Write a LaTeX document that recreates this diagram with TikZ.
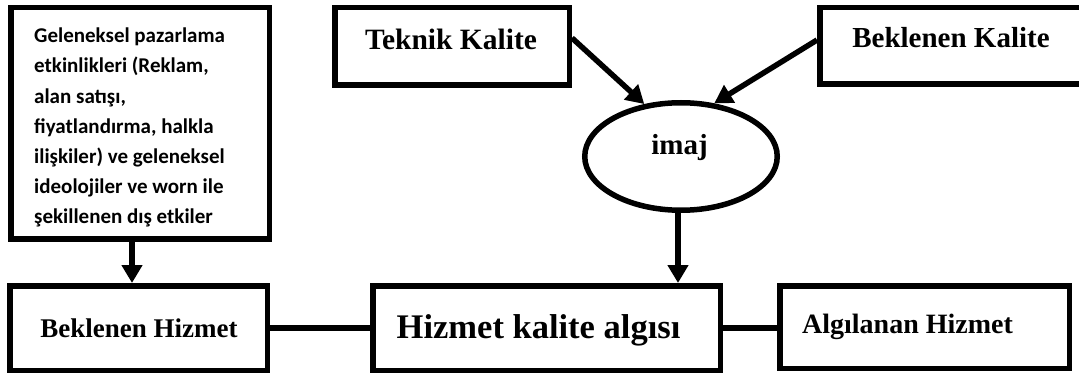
\documentclass[tikz,border=0pt]{standalone}
\usepackage{fontspec}
\setmainfont{Liberation Serif}
\newfontfamily\calfont{Carlito}
\usetikzlibrary{arrows.meta,shapes.geometric}

\tikzset{
  box/.style={draw=black, line width=5.5pt, fill=white, rectangle, inner sep=0pt},
  oval/.style={draw=black, line width=5.5pt, fill=white, ellipse, inner sep=0pt},
  lbl/.style={anchor=base, inner sep=0pt, font=\bfseries\fontsize{29}{34}\selectfont},
  arr/.style={line width=5.5pt, -{Triangle[length=18pt,width=20pt]}},
  conn/.style={line width=5.5pt}
}

\begin{document}
\begin{tikzpicture}[x=1pt,y=-1pt]
  \useasboundingbox (0,0) rectangle (1079,374);
  \fill[white] (0,0) rectangle (1079,374);
  \clip (0,0) rectangle (1079,374);

  % boxes
  \node[box, minimum width=258.5pt, minimum height=231.5pt] (geb) at (140,123.5) {};
  \node[box, minimum width=234.5pt, minimum height=77.5pt] (tk) at (452,46.5) {};
  \node[box, minimum width=272.5pt, minimum height=76.5pt] (bk) at (956,46) {};
  \node[oval, minimum width=192.5pt, minimum height=107.5pt] (imaj) at (681,156.5) {};
  \node[box, minimum width=257.5pt, minimum height=84.5pt] (bh) at (138.5,328) {};
  \node[box, minimum width=347.5pt, minimum height=84.5pt] (hk) at (546.5,328) {};
  \node[box, minimum width=289.5pt, minimum height=82.5pt] (ah) at (924.5,327) {};

  % labels
  \node[anchor=north west, inner sep=0pt, align=left,
        font=\calfont\bfseries\fontsize{21}{30.2}\selectfont] (gebtext) at (34,27.8)
    {Geleneksel pazarlama\\etkinlikleri (Reklam,\\alan satışı,\\fiyatlandırma, halkla\\ilişkiler) ve geleneksel\\ideolojiler ve worn ile\\şekillenen dış etkiler};
  \node[lbl, font=\bfseries\fontsize{29.5}{34}\selectfont] (tktext) at (451,49.5) {Teknik Kalite};
  \node[lbl] (bktext) at (951,48) {Beklenen Kalite};
  \node[lbl] (imajtext) at (679.5,155) {imaj};
  \node[lbl, font=\bfseries\fontsize{27}{32}\selectfont] (bhtext) at (139,337) {Beklenen Hizmet};
  \node[lbl, font=\bfseries\fontsize{34.5}{40}\selectfont] (hktext) at (538.5,338) {Hizmet kalite algısı};
  \node[lbl, font=\bfseries\fontsize{28}{33}\selectfont] (ahtext) at (907.5,333) {Algılanan Hizmet};

  % connectors
  \coordinate (xa) at (132,0);
  \coordinate (xb) at (678,0);
  \draw[arr] (xa |- geb.south) -- (xa |- bh.north);
  \draw[arr] ([yshift=8.5pt]tk.east) -- (imaj.125);
  \draw[arr] ([yshift=6pt]bk.west) -- (imaj.58);
  \draw[arr] (xb |- imaj.south) -- (xb |- hk.north);
  \draw[conn] (bh.east) -- (hk.west);
  \draw[conn] (hk.east) -- (hk.east -| ah.west);
\end{tikzpicture}
\end{document}
